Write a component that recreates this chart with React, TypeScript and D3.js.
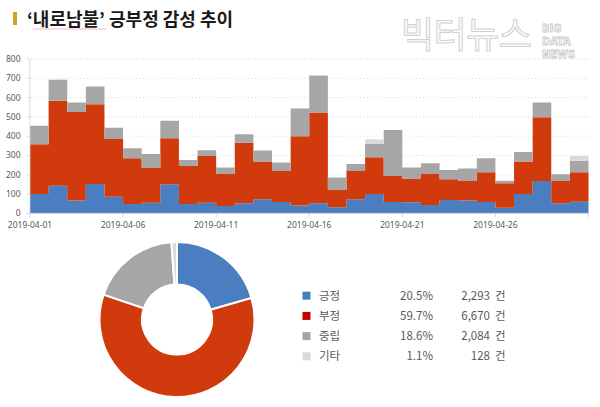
import React from 'react';
import * as d3 from 'd3';

const dates = [
  '2019-04-01','2019-04-02','2019-04-03','2019-04-04','2019-04-05','2019-04-06','2019-04-07','2019-04-08','2019-04-09','2019-04-10',
  '2019-04-11','2019-04-12','2019-04-13','2019-04-14','2019-04-15','2019-04-16','2019-04-17','2019-04-18','2019-04-19','2019-04-20',
  '2019-04-21','2019-04-22','2019-04-23','2019-04-24','2019-04-25','2019-04-26','2019-04-27','2019-04-28','2019-04-29','2019-04-30',
];
const positive = [100,143,66,152,86,48,55,150,48,55,38,52,73,59,41,52,31,73,100,59,57,43,69,66,59,29,100,168,52,60];
const negative = [258,441,459,413,299,237,183,239,197,242,166,314,195,160,359,470,90,146,190,135,124,161,107,102,154,127,168,330,116,153];
const neutral = [96,107,50,92,59,52,70,91,31,30,34,44,57,45,144,192,64,37,69,238,57,55,49,64,72,13,50,76,34,60];
const other = [0,4,0,0,0,0,0,0,0,0,0,0,0,0,0,3,0,0,25,0,0,0,0,0,0,0,0,0,0,24];

const yTicks = [0, 100, 200, 300, 400, 500, 600, 700, 800];
const xTickLabels = ['2019-04-01', '2019-04-06', '2019-04-11', '2019-04-16', '2019-04-21', '2019-04-26'];

const legendNames = ['긍정', '부정', '중립', '기타'];
const legendPercents = ['20.5%', '59.7%', '18.6%', '1.1%'];
const legendCounts = [2293, 6670, 2084, 128];

const areaColors = ['#4b7ec0', '#d03a0c', '#a6a6a6', '#dadada'];
const legendColors = ['#4b7ec0', '#c00000', '#a6a6a6', '#dadada'];

export default function App() {
  const keys = ['pos', 'neg', 'neu', 'oth'];
  const rows = dates.map((d, i) => ({ i, pos: positive[i], neg: negative[i], neu: neutral[i], oth: other[i] }));
  const last = rows[rows.length - 1];
  const rowsExt = [...rows, { ...last, i: rows.length }];

  const x = d3.scaleLinear().domain([0, dates.length]).range([30, 588.5]);
  const y = d3.scaleLinear().domain([0, 800]).range([213.3, 59]);

  const stack = d3.stack<any>().keys(keys);
  const series = stack(rowsExt);
  const area = d3
    .area<any>()
    .x((d) => x(d.data.i))
    .y0((d) => y(d[0]))
    .y1((d) => y(d[1]))
    .curve(d3.curveStepAfter);

  const tickIdx = xTickLabels.map((l) => dates.indexOf(l));

  const pie = d3.pie<number>().sort(null).startAngle(0).endAngle(2 * Math.PI);
  const arcs = pie(legendCounts);
  const arc = d3.arc<any>().innerRadius(35).outerRadius(77.5);
  const cx = 177;
  const cy = 319.5;

  const fmt = d3.format(',');
  const font = "'Noto Sans CJK KR', 'Noto Sans', sans-serif";

  return (
    <svg
      width={600}
      height={407}
      style={{ position: 'absolute', left: 0, top: 0, background: '#fff' }}
      fontFamily={font}
    >
      <rect x={0} y={0} width={600} height={407} fill="#fff" />
      {/* Title */}
      <rect x={13} y={12} width={4} height={13} fill="#c9a227" />
      <text x={27} y={25.5} fontSize={18} fontWeight={700} fill="#1a1a1a">
        ‘내로남불’ 긍부정 감성 추이
      </text>
      <path
        d={d3.range(0, 76, 2).map((v, k) => `${k === 0 ? 'M' : 'L'}${33 + v},${k % 2 ? 28.5 : 29.5}`).join('')}
        stroke="#e06060"
        strokeWidth={0.6}
        fill="none"
        opacity={0.7}
      />

      {/* Watermark */}
      <text x={401} y={48} fontSize={36} fontWeight={400} fill="#fff" stroke="#d2d2d2" strokeWidth={1.1} fontFamily="'Noto Sans CJK KR', sans-serif" letterSpacing={-0.5}>
        빅터뉴스
      </text>
      <g fontFamily="'DejaVu Sans Condensed', 'Liberation Sans Narrow', sans-serif" fontSize={11} fontWeight={700} fill="#fff" stroke="#c8c8c8" strokeWidth={0.8}>
        <text x={542} y={32}>BIG</text>
        <text x={542} y={45}>DATA</text>
        <text x={542} y={58}>NEWS</text>
      </g>

      {/* Grid */}
      {yTicks.slice(1).map((t) => (
        <line key={t} x1={31} x2={589} y1={y(t)} y2={y(t)} stroke="#cfcfcf" strokeWidth={0.8} strokeDasharray="1,2.5" />
      ))}

      {/* Areas */}
      {series.map((s, k) => (
        <path key={s.key} d={area(s as any) || ''} fill={areaColors[k]} />
      ))}

      {/* Axes */}
      <line x1={30} x2={30} y1={y(800)} y2={y(0)} stroke="#d0d0d0" strokeWidth={0.8} />
      {yTicks.map((t) => (
        <g key={t}>
          <line x1={27} x2={30} y1={y(t)} y2={y(t)} stroke="#d0d0d0" strokeWidth={0.8} />
          <text x={20.5} y={y(t) + 3} fontSize={8.5} textAnchor="end" fill="#595959" fontFamily="'Noto Sans', sans-serif">
            {t}
          </text>
        </g>
      ))}
      <line x1={30} x2={589} y1={y(0)} y2={y(0)} stroke="#d0d0d0" strokeWidth={0.8} />
      {[...tickIdx, dates.length].map((i) => (
        <line key={i} x1={x(i)} x2={x(i)} y1={y(0)} y2={y(0) + 4} stroke="#d0d0d0" strokeWidth={0.8} />
      ))}
      {xTickLabels.map((l, k) => (
        <text key={l} x={x(tickIdx[k])} y={228} fontSize={8.5} textAnchor="middle" fill="#595959" fontFamily="'Noto Sans', sans-serif">
          {l}
        </text>
      ))}

      {/* Donut */}
      <g transform={`translate(${cx},${cy})`}>
        {arcs.map((a, k) => (
          <path key={k} d={arc(a) || ''} fill={areaColors[k]} stroke="#fff" strokeWidth={2} />
        ))}
      </g>

      {/* Legend */}
      {legendNames.map((n, k) => {
        const ry = 295.7 + k * 20.2;
        return (
          <g key={n} fontSize={11.5} fill="#595959">
            <rect x={302.5} y={ry - 4} width={8} height={8} fill={legendColors[k]} />
            <text x={319} y={ry + 4}>{n}</text>
            <text x={433} y={ry + 4} textAnchor="end">{legendPercents[k]}</text>
            <text x={490} y={ry + 4} textAnchor="end">{fmt(legendCounts[k])}</text>
            <text x={495} y={ry + 4}>건</text>
          </g>
        );
      })}
    </svg>
  );
}
